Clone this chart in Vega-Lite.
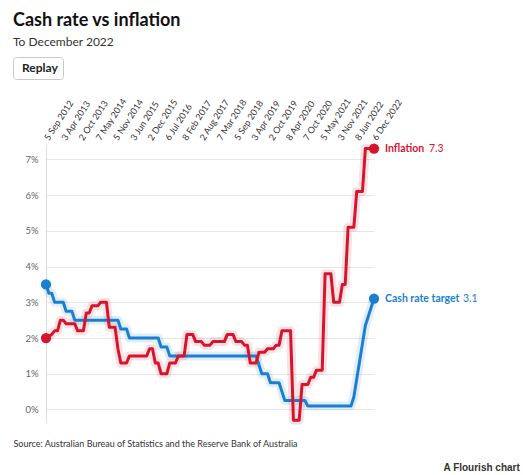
{
  "$schema": "https://vega.github.io/schema/vega-lite/v6.json",
  "autosize": {"type": "none"},
  "width": 328,
  "height": 277,
  "padding": {"left": 46, "top": 145, "right": 149, "bottom": 53},
  "background": "#ffffff",
  "config": {"view": {"stroke": null}, "font": "Lato"},
  "title": {
    "text": "Cash rate vs inflation",
    "subtitle": "To December 2022",
    "anchor": "start",
    "frame": "group",
    "dx": -33,
    "font": "Lato",
    "fontSize": 18,
    "fontWeight": "bold",
    "color": "#111111",
    "subtitleFont": "Lato",
    "subtitleFontSize": 12,
    "subtitleColor": "#333333",
    "subtitlePadding": 7,
    "offset": 9
  },
  "data": {
    "values": [
      {"d": "5 Sep 2012", "Cash rate target": 3.5, "Inflation": 2.0},
      {"d": "3 Oct 2012", "Cash rate target": 3.25, "Inflation": 2.05},
      {"d": "7 Nov 2012", "Cash rate target": 3.25, "Inflation": 2.1},
      {"d": "5 Dec 2012", "Cash rate target": 3.0, "Inflation": 2.2},
      {"d": "6 Feb 2013", "Cash rate target": 3.0, "Inflation": 2.2},
      {"d": "6 Mar 2013", "Cash rate target": 3.0, "Inflation": 2.5},
      {"d": "3 Apr 2013", "Cash rate target": 3.0, "Inflation": 2.5},
      {"d": "8 May 2013", "Cash rate target": 2.75, "Inflation": 2.4},
      {"d": "5 Jun 2013", "Cash rate target": 2.75, "Inflation": 2.4},
      {"d": "3 Jul 2013", "Cash rate target": 2.75, "Inflation": 2.4},
      {"d": "7 Aug 2013", "Cash rate target": 2.5, "Inflation": 2.4},
      {"d": "4 Sep 2013", "Cash rate target": 2.5, "Inflation": 2.2},
      {"d": "2 Oct 2013", "Cash rate target": 2.5, "Inflation": 2.2},
      {"d": "6 Nov 2013", "Cash rate target": 2.5, "Inflation": 2.2},
      {"d": "4 Dec 2013", "Cash rate target": 2.5, "Inflation": 2.7},
      {"d": "5 Feb 2014", "Cash rate target": 2.5, "Inflation": 2.7},
      {"d": "5 Mar 2014", "Cash rate target": 2.5, "Inflation": 2.9},
      {"d": "2 Apr 2014", "Cash rate target": 2.5, "Inflation": 2.9},
      {"d": "7 May 2014", "Cash rate target": 2.5, "Inflation": 2.9},
      {"d": "4 Jun 2014", "Cash rate target": 2.5, "Inflation": 3.0},
      {"d": "2 Jul 2014", "Cash rate target": 2.5, "Inflation": 3.0},
      {"d": "6 Aug 2014", "Cash rate target": 2.5, "Inflation": 3.0},
      {"d": "3 Sep 2014", "Cash rate target": 2.5, "Inflation": 2.3},
      {"d": "1 Oct 2014", "Cash rate target": 2.5, "Inflation": 2.3},
      {"d": "5 Nov 2014", "Cash rate target": 2.5, "Inflation": 2.3},
      {"d": "3 Dec 2014", "Cash rate target": 2.5, "Inflation": 1.7},
      {"d": "4 Feb 2015", "Cash rate target": 2.25, "Inflation": 1.3},
      {"d": "4 Mar 2015", "Cash rate target": 2.25, "Inflation": 1.3},
      {"d": "8 Apr 2015", "Cash rate target": 2.25, "Inflation": 1.3},
      {"d": "6 May 2015", "Cash rate target": 2.0, "Inflation": 1.5},
      {"d": "3 Jun 2015", "Cash rate target": 2.0, "Inflation": 1.5},
      {"d": "8 Jul 2015", "Cash rate target": 2.0, "Inflation": 1.5},
      {"d": "5 Aug 2015", "Cash rate target": 2.0, "Inflation": 1.5},
      {"d": "2 Sep 2015", "Cash rate target": 2.0, "Inflation": 1.5},
      {"d": "7 Oct 2015", "Cash rate target": 2.0, "Inflation": 1.5},
      {"d": "4 Nov 2015", "Cash rate target": 2.0, "Inflation": 1.5},
      {"d": "2 Dec 2015", "Cash rate target": 2.0, "Inflation": 1.7},
      {"d": "3 Feb 2016", "Cash rate target": 2.0, "Inflation": 1.7},
      {"d": "2 Mar 2016", "Cash rate target": 2.0, "Inflation": 1.3},
      {"d": "6 Apr 2016", "Cash rate target": 2.0, "Inflation": 1.3},
      {"d": "4 May 2016", "Cash rate target": 1.75, "Inflation": 1.0},
      {"d": "8 Jun 2016", "Cash rate target": 1.75, "Inflation": 1.0},
      {"d": "6 Jul 2016", "Cash rate target": 1.75, "Inflation": 1.0},
      {"d": "3 Aug 2016", "Cash rate target": 1.5, "Inflation": 1.3},
      {"d": "7 Sep 2016", "Cash rate target": 1.5, "Inflation": 1.3},
      {"d": "5 Oct 2016", "Cash rate target": 1.5, "Inflation": 1.3},
      {"d": "2 Nov 2016", "Cash rate target": 1.5, "Inflation": 1.5},
      {"d": "7 Dec 2016", "Cash rate target": 1.5, "Inflation": 1.5},
      {"d": "8 Feb 2017", "Cash rate target": 1.5, "Inflation": 1.5},
      {"d": "8 Mar 2017", "Cash rate target": 1.5, "Inflation": 2.1},
      {"d": "5 Apr 2017", "Cash rate target": 1.5, "Inflation": 2.1},
      {"d": "3 May 2017", "Cash rate target": 1.5, "Inflation": 2.1},
      {"d": "7 Jun 2017", "Cash rate target": 1.5, "Inflation": 1.9},
      {"d": "5 Jul 2017", "Cash rate target": 1.5, "Inflation": 1.9},
      {"d": "2 Aug 2017", "Cash rate target": 1.5, "Inflation": 1.9},
      {"d": "6 Sep 2017", "Cash rate target": 1.5, "Inflation": 1.8},
      {"d": "4 Oct 2017", "Cash rate target": 1.5, "Inflation": 1.8},
      {"d": "8 Nov 2017", "Cash rate target": 1.5, "Inflation": 1.8},
      {"d": "6 Dec 2017", "Cash rate target": 1.5, "Inflation": 1.9},
      {"d": "7 Feb 2018", "Cash rate target": 1.5, "Inflation": 1.9},
      {"d": "7 Mar 2018", "Cash rate target": 1.5, "Inflation": 1.9},
      {"d": "4 Apr 2018", "Cash rate target": 1.5, "Inflation": 1.9},
      {"d": "2 May 2018", "Cash rate target": 1.5, "Inflation": 1.9},
      {"d": "6 Jun 2018", "Cash rate target": 1.5, "Inflation": 2.1},
      {"d": "4 Jul 2018", "Cash rate target": 1.5, "Inflation": 2.1},
      {"d": "8 Aug 2018", "Cash rate target": 1.5, "Inflation": 2.1},
      {"d": "5 Sep 2018", "Cash rate target": 1.5, "Inflation": 1.9},
      {"d": "3 Oct 2018", "Cash rate target": 1.5, "Inflation": 1.9},
      {"d": "7 Nov 2018", "Cash rate target": 1.5, "Inflation": 1.9},
      {"d": "5 Dec 2018", "Cash rate target": 1.5, "Inflation": 1.8},
      {"d": "6 Feb 2019", "Cash rate target": 1.5, "Inflation": 1.8},
      {"d": "6 Mar 2019", "Cash rate target": 1.5, "Inflation": 1.3},
      {"d": "3 Apr 2019", "Cash rate target": 1.5, "Inflation": 1.3},
      {"d": "8 May 2019", "Cash rate target": 1.5, "Inflation": 1.3},
      {"d": "5 Jun 2019", "Cash rate target": 1.25, "Inflation": 1.6},
      {"d": "3 Jul 2019", "Cash rate target": 1.0, "Inflation": 1.6},
      {"d": "7 Aug 2019", "Cash rate target": 1.0, "Inflation": 1.6},
      {"d": "4 Sep 2019", "Cash rate target": 1.0, "Inflation": 1.7},
      {"d": "2 Oct 2019", "Cash rate target": 0.75, "Inflation": 1.7},
      {"d": "6 Nov 2019", "Cash rate target": 0.75, "Inflation": 1.7},
      {"d": "4 Dec 2019", "Cash rate target": 0.75, "Inflation": 1.8},
      {"d": "5 Feb 2020", "Cash rate target": 0.75, "Inflation": 1.8},
      {"d": "4 Mar 2020", "Cash rate target": 0.5, "Inflation": 2.2},
      {"d": "20 Mar 2020", "Cash rate target": 0.25, "Inflation": 2.2},
      {"d": "8 Apr 2020", "Cash rate target": 0.25, "Inflation": 2.2},
      {"d": "6 May 2020", "Cash rate target": 0.25, "Inflation": 2.2},
      {"d": "3 Jun 2020", "Cash rate target": 0.25, "Inflation": -0.3},
      {"d": "8 Jul 2020", "Cash rate target": 0.25, "Inflation": -0.3},
      {"d": "5 Aug 2020", "Cash rate target": 0.25, "Inflation": -0.3},
      {"d": "2 Sep 2020", "Cash rate target": 0.25, "Inflation": 0.7},
      {"d": "7 Oct 2020", "Cash rate target": 0.25, "Inflation": 0.7},
      {"d": "4 Nov 2020", "Cash rate target": 0.1, "Inflation": 0.7},
      {"d": "2 Dec 2020", "Cash rate target": 0.1, "Inflation": 0.9},
      {"d": "3 Feb 2021", "Cash rate target": 0.1, "Inflation": 0.9},
      {"d": "3 Mar 2021", "Cash rate target": 0.1, "Inflation": 1.1},
      {"d": "7 Apr 2021", "Cash rate target": 0.1, "Inflation": 1.1},
      {"d": "5 May 2021", "Cash rate target": 0.1, "Inflation": 1.1},
      {"d": "2 Jun 2021", "Cash rate target": 0.1, "Inflation": 3.8},
      {"d": "7 Jul 2021", "Cash rate target": 0.1, "Inflation": 3.8},
      {"d": "4 Aug 2021", "Cash rate target": 0.1, "Inflation": 3.8},
      {"d": "8 Sep 2021", "Cash rate target": 0.1, "Inflation": 3.0},
      {"d": "6 Oct 2021", "Cash rate target": 0.1, "Inflation": 3.0},
      {"d": "3 Nov 2021", "Cash rate target": 0.1, "Inflation": 3.0},
      {"d": "8 Dec 2021", "Cash rate target": 0.1, "Inflation": 3.5},
      {"d": "2 Feb 2022", "Cash rate target": 0.1, "Inflation": 3.5},
      {"d": "2 Mar 2022", "Cash rate target": 0.1, "Inflation": 5.1},
      {"d": "6 Apr 2022", "Cash rate target": 0.1, "Inflation": 5.1},
      {"d": "4 May 2022", "Cash rate target": 0.35, "Inflation": 5.1},
      {"d": "8 Jun 2022", "Cash rate target": 0.85, "Inflation": 6.1},
      {"d": "6 Jul 2022", "Cash rate target": 1.35, "Inflation": 6.1},
      {"d": "3 Aug 2022", "Cash rate target": 1.85, "Inflation": 6.1},
      {"d": "7 Sep 2022", "Cash rate target": 2.35, "Inflation": 7.3},
      {"d": "5 Oct 2022", "Cash rate target": 2.6, "Inflation": 7.3},
      {"d": "2 Nov 2022", "Cash rate target": 2.85, "Inflation": 7.3},
      {"d": "6 Dec 2022", "Cash rate target": 3.1, "Inflation": 7.3}
    ]
  },
  "transform": [
    {"fold": ["Cash rate target", "Inflation"], "as": ["s", "v"]}
  ],
  "encoding": {
    "x": {"field": "d", "type": "ordinal", "sort": null, "scale": {"type": "point", "padding": 0},
      "axis": {
        "orient": "top",
        "values": ["5 Sep 2012", "3 Apr 2013", "2 Oct 2013", "7 May 2014", "5 Nov 2014", "3 Jun 2015", "2 Dec 2015", "6 Jul 2016", "8 Feb 2017", "2 Aug 2017", "7 Mar 2018", "5 Sep 2018", "3 Apr 2019", "2 Oct 2019", "8 Apr 2020", "7 Oct 2020", "5 May 2021", "3 Nov 2021", "8 Jun 2022", "6 Dec 2022"],
        "labelAngle": -57,
        "labelAlign": "left",
        "labelBaseline": "middle",
        "labelPadding": 6,
        "labelOverlap": false,
        "labelFont": "Lato",
        "labelFontSize": 9,
        "labelColor": "#333333",
        "ticks": false,
        "domain": false,
        "grid": false,
        "title": "A Flourish chart",
        "titleX": 397,
        "titleY": 325,
        "titleAlign": "left",
        "titleAnchor": null,
        "titleAngle": 0,
        "titleBaseline": "alphabetic",
        "titleFont": "Liberation Sans",
        "titleFontSize": 10,
        "titleFontWeight": "bold",
        "titleColor": "#333333"
      }
    },
    "y": {"field": "v", "type": "quantitative", "scale": {"domain": [-0.35, 7.4], "nice": false, "zero": false},
      "axis": {
        "values": [0, 1, 2, 3, 4, 5, 6, 7],
        "tickCount": 8,
        "labelOverlap": false,
        "labelExpr": "datum.value + '%'",
        "labelFont": "Lato",
        "labelFontSize": 9.5,
        "labelColor": "#666666",
        "labelPadding": 8,
        "ticks": false,
        "domain": true,
        "domainColor": "#dddddd",
        "grid": true,
        "gridColor": "#e6e6e6",
        "title": "Source: Australian Bureau of Statistics and the Reserve Bank of Australia",
        "titleX": -33,
        "titleY": 301,
        "titleAngle": 0,
        "titleAlign": "left",
        "titleAnchor": null,
        "titleBaseline": "alphabetic",
        "titleFont": "Lato",
        "titleFontSize": 9,
        "titleFontWeight": "normal",
        "titleColor": "#333333"
      }
    },
    "color": {"field": "s", "type": "nominal", "scale": {"domain": ["Cash rate target", "Inflation"], "range": ["#1b7fd0", "#d5152e"]}, "legend": null}
  },
  "layer": [
    {
      "mark": {"type": "line", "strokeWidth": 9, "strokeJoin": "round", "strokeCap": "round"},
      "encoding": {
        "opacity": {
          "datum": "Replay",
          "type": "nominal",
          "scale": {"type": "ordinal", "domain": ["Replay"], "range": [0.13]},
          "legend": {
            "title": null,
            "orient": "none",
            "legendX": -33,
            "legendY": -88,
            "strokeColor": "#c8c8c8",
            "fillColor": "#ffffff",
            "cornerRadius": 3,
            "padding": 5,
            "symbolType": "circle",
            "symbolSize": 0,
            "symbolStrokeWidth": 0,
            "symbolOpacity": 0,
            "labelOffset": -8,
            "labelFont": "Lato",
            "labelFontSize": 12,
            "labelFontWeight": "bold",
            "labelColor": "#222222"
          }
        }
      }
    },
    {
      "mark": {"type": "line", "strokeWidth": 3, "strokeJoin": "round"},
      "encoding": {}
    },
    {
      "transform": [{"filter": "datum.d == '5 Sep 2012' || datum.d == '6 Dec 2022'"}],
      "mark": {"type": "point", "filled": true, "size": 105, "opacity": 1},
      "encoding": {}
    },
    {
      "transform": [{"filter": "datum.d == '6 Dec 2022'"}],
      "mark": {"type": "text", "align": "left", "baseline": "middle", "dx": 11, "font": "Lato", "fontSize": 10.5, "fontWeight": "bold"},
      "encoding": {"text": {"field": "s"}}
    },
    {
      "transform": [{"filter": "datum.d == '6 Dec 2022' && datum.s == 'Inflation'"}],
      "mark": {"type": "text", "align": "left", "baseline": "middle", "dx": 55, "font": "Lato", "fontSize": 10.5},
      "encoding": {"text": {"field": "v", "format": ".1f"}}
    },
    {
      "transform": [{"filter": "datum.d == '6 Dec 2022' && datum.s == 'Cash rate target'"}],
      "mark": {"type": "text", "align": "left", "baseline": "middle", "dx": 89, "font": "Lato", "fontSize": 10.5},
      "encoding": {"text": {"field": "v", "format": ".1f"}}
    }
  ]
}
